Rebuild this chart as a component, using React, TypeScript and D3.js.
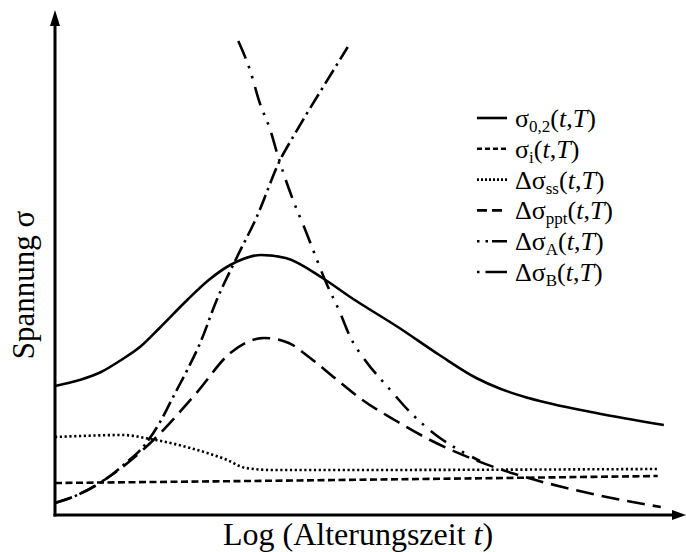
import React from "react";
import * as d3 from "d3";

// Schematic data (x: log ageing time, arbitrary units 0..10; y: stress, arbitrary units 0..100)
const sigma02: [number, number][] = [
  [0, 25.8], [0.4, 27], [0.75, 28.6], [1.05, 30.8], [1.4, 33.8], [1.7, 37.4], [2.15, 43],
  [2.5, 47], [2.85, 50], [3.35, 52], [3.75, 51.4], [4.35, 47.4], [4.8, 43.6], [5.6, 37.4],
  [6.25, 32], [6.85, 27.4], [7.25, 25.2], [7.7, 23.4], [8.8, 20.4], [9.9, 18],
];
const sigmaI: [number, number][] = [[0, 6.4], [4.6, 7], [9.8, 7.8]];
const deltaSS: [number, number][] = [
  [0, 15.6], [0.4, 15.8], [1.1, 16], [1.55, 15.2], [2.2, 13.4], [2.8, 11], [3.1, 9.4],
  [3.55, 9], [4.6, 9], [9.8, 9.2],
];
const deltaPPT: [number, number][] = [
  [0, 2.4], [0.4, 4.2], [0.85, 7.4], [1.2, 10.6], [1.65, 15.6], [2.3, 24.4], [2.85, 32.4],
  [3.4, 35.4], [3.8, 34.4], [4.15, 31.4], [4.55, 27.4], [5.0, 23], [5.55, 18.8], [6.1, 15],
  [6.75, 11.4], [7.45, 8.3], [8.25, 5.6], [9.05, 3.4], [9.85, 1.6],
];
const deltaA: [number, number][] = [
  [2.98, 94.8], [3.17, 89], [3.33, 82.4], [3.5, 77], [3.63, 71.6], [3.87, 63], [4.07, 57],
  [4.26, 51], [4.39, 47], [4.63, 40.6], [4.8, 35.6], [5.04, 31], [5.41, 25.6], [5.82, 20],
  [6.26, 15.4], [6.63, 12.6], [6.91, 10.8],
];
const deltaB: [number, number][] = [
  [0, 2.4], [0.4, 4.2], [0.85, 7.4], [1.15, 10.4], [1.43, 13.6], [1.7, 18.4], [1.92, 23.6],
  [2.15, 29], [2.36, 34.4], [2.63, 43], [2.96, 51.6], [3.28, 59.6], [3.66, 71], [3.87, 75.6],
  [4.11, 80.6], [4.36, 85.6], [4.6, 90.4], [4.76, 93.6],
];

const legendBases = ["σ", "σ", "Δσ", "Δσ", "Δσ", "Δσ"];
const legendSubs = ["0,2", "i", "ss", "ppt", "A", "B"];

const FONT = "'Liberation Serif', 'Times New Roman', serif";

const chartDash = ["", "7,3.5", "2.2,2.6", "18,8", "19,8,2.5,8,2.5,9", "16,5,2.5,5"];
const legendDash = ["", "5,3", "2,2", "10,5", "2.5,6,2.5,4,15", "2.5,6,22"];

export default function App() {
  const W = 686, H = 552;
  const x = d3.scaleLinear().domain([0, 10]).range([55, 670]);
  const y = d3.scaleLinear().domain([0, 100]).range([515, 15]);
  const line = d3
    .line<[number, number]>()
    .x((d) => x(d[0]))
    .y((d) => y(d[1]))
    .curve(d3.curveMonotoneX);

  const series = [sigma02, sigmaI, deltaSS, deltaPPT, deltaA, deltaB];
  const x0 = x(0);
  const yBase = y(0);

  return (
    <svg width={W} height={H} style={{ display: "block", position: "absolute", left: 0, top: 0 }}>
      <rect width={W} height={H} fill="#fff" />
      {series.map((s, i) => (
        <path
          key={i}
          d={line(s) || ""}
          fill="none"
          stroke="#000"
          strokeWidth={2.6}
          strokeDasharray={chartDash[i] || undefined}
        />
      ))}
      {/* axes */}
      <line x1={x0} y1={yBase + 1.5} x2={x0} y2={24} stroke="#000" strokeWidth={3} />
      <polygon points={`${x0},10 ${x0 - 5},26 ${x0 + 5},26`} fill="#000" />
      <line x1={x0 - 1.5} y1={yBase} x2={674} y2={yBase} stroke="#000" strokeWidth={3} />
      <polygon points={`686,${yBase} 672,${yBase - 5} 672,${yBase + 5}`} fill="#000" />

      {/* axis labels */}
      <text x={358} y={545} fontFamily={FONT} fontSize={32} textAnchor="middle" fill="#000">
        Log (Alterungszeit <tspan fontStyle="italic">t</tspan>)
      </text>
      <text
        transform="translate(34,285) rotate(-90)"
        fontFamily={FONT}
        fontSize={31}
        textAnchor="middle"
        fill="#000"
      >
        Spannung σ
      </text>

      {/* legend */}
      {legendBases.map((b, i) => {
        const ly = 118 + i * 30.8;
        return (
          <g key={i}>
            <line
              x1={477}
              x2={507}
              y1={ly}
              y2={ly}
              stroke="#000"
              strokeWidth={2.6}
              strokeDasharray={legendDash[i] || undefined}
            />
            <text x={515} y={ly + 9} fontFamily={FONT} fontSize={26} fill="#000">
              {b}
              <tspan fontSize={17} dy={5}>{legendSubs[i]}</tspan>
              <tspan dy={-5}>(</tspan>
              <tspan fontStyle="italic">t</tspan>
              <tspan>,</tspan>
              <tspan fontStyle="italic">T</tspan>
              <tspan>)</tspan>
            </text>
          </g>
        );
      })}
    </svg>
  );
}
